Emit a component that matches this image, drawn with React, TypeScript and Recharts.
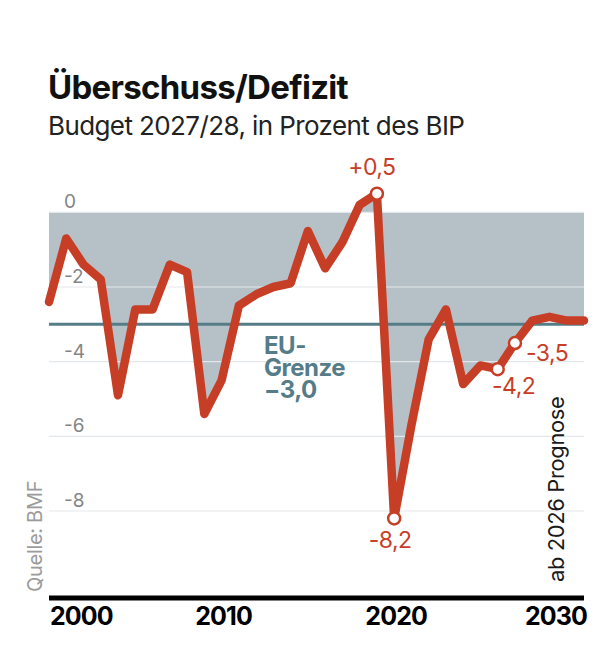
import { ComposedChart, Area, Line, XAxis, YAxis, ReferenceLine } from 'recharts'

// Gesamtstaatlicher Saldo Österreich in % des BIP, ab 2026 Prognose
const years = [
  2000, 2001, 2002, 2003, 2004, 2005, 2006, 2007, 2008, 2009, 2010,
  2011, 2012, 2013, 2014, 2015, 2016, 2017, 2018, 2019, 2020, 2021,
  2022, 2023, 2024, 2025, 2026, 2027, 2028, 2029, 2030, 2031,
]
const balance = [
  -2.4, -0.7, -1.4, -1.8, -4.9, -2.6, -2.6, -1.4, -1.6, -5.4, -4.5,
  -2.5, -2.2, -2.0, -1.9, -0.5, -1.5, -0.8, 0.2, 0.5, -8.2, -5.7,
  -3.4, -2.6, -4.6, -4.1, -4.2, -3.5, -2.9, -2.8, -2.9, -2.9,
]
const xTicks = [2000, 2010, 2020, 2030]
const yTicks = [0, -2, -4, -6, -8]
const EU_LIMIT = -3
const highlightYears = [2019, 2020, 2026, 2027]

const data = years.map((year, i) => ({ year, value: balance[i] }))

const RED = '#c73e27'
const AREA_GRAY = '#b6c1c7'
const TEAL = '#557c87'
const GRID = '#e4e7e9'
const FONT = 'Inter, "Noto Sans", sans-serif'

const W = 616
const H = 654
const MARGIN = { top: 175, right: 32, bottom: 0, left: 49 }

// where each value callout sits relative to its point
const calloutPos: Record<number, { dx: number; dy: number; anchor: 'start' | 'middle' | 'end' }> = {
  2019: { dx: -5, dy: -19, anchor: 'middle' },
  2020: { dx: -4, dy: 30, anchor: 'middle' },
  2026: { dx: 16, dy: 25, anchor: 'middle' },
  2027: { dx: 11, dy: 18, anchor: 'start' },
}

const fmt = (v: number) => (v > 0 ? '+' : v < 0 ? '-' : '') + Math.abs(v).toFixed(1).replace('.', ',')

function XTick({ x, y, payload, index }: any) {
  const last = index === xTicks.length - 1
  const anchor = index === 0 ? 'start' : last ? 'end' : 'middle'
  const tx = last ? W - MARGIN.right + 3 : index === 0 ? x + 1 : x + 2
  return (
    <text x={tx} y={y + 27} textAnchor={anchor} fontFamily={FONT} fontWeight={700} fontSize={25} fill="#000" letterSpacing={-0.9}>
      {payload.value}
    </text>
  )
}

// value label sitting just above a horizontal grid line
function GridLabel({ viewBox, value }: any) {
  return (
    <text x={viewBox.x + 15} y={viewBox.y - 4} fontFamily={FONT} fontSize={19} fill="#858585">
      {value === 0 ? '0' : '-' + Math.abs(value)}
    </text>
  )
}

function Dot({ cx, cy, payload }: any) {
  if (!highlightYears.includes(payload.year)) return <g key={payload.year} />
  return <circle key={payload.year} cx={cx} cy={cy} r={6} fill="#fff" stroke={RED} strokeWidth={2.5} />
}

function Callout({ x, y, index }: any) {
  const d = data[index]
  const pos = calloutPos[d.year]
  if (!pos) return <g key={index} />
  return (
    <text key={index} x={x + pos.dx} y={y + pos.dy} textAnchor={pos.anchor} fontFamily={FONT} fontSize={23} fill={RED} letterSpacing={-0.5}>
      {fmt(d.value)}
    </text>
  )
}

function LimitLabel({ viewBox }: any) {
  const y = viewBox.y
  return (
    <text fontFamily={FONT} fontWeight={700} fontSize={24} fill={TEAL} letterSpacing={-0.5}>
      <tspan x={264} y={y + 30}>EU-</tspan>
      <tspan x={264} y={y + 52}>Grenze</tspan>
      <tspan x={264} y={y + 74}>{'\u2212' + Math.abs(EU_LIMIT).toFixed(1).replace('.', ',')}</tspan>
    </text>
  )
}

export default function App() {
  return (
    <div style={{ position: 'absolute', left: 0, top: 0, width: W, height: H, background: '#fff' }}>
      <ComposedChart width={W} height={H} data={data} margin={MARGIN}>
        <XAxis
          dataKey="year"
          type="number"
          domain={[2000, 2031]}
          ticks={xTicks}
          tick={<XTick />}
          tickLine={false}
          tickSize={0}
          tickMargin={0}
          height={56}
          axisLine={{ stroke: '#000', strokeWidth: 5 }}
        />
        <YAxis type="number" domain={[-10.33, 1]} allowDataOverflow ticks={yTicks} hide />
        <Area
          dataKey="value"
          type="linear"
          baseValue={0}
          fill={AREA_GRAY}
          fillOpacity={1}
          stroke="none"
          isAnimationActive={false}
          zIndex={100}
        />
        {yTicks.map(t => (
          <ReferenceLine
            key={t}
            y={t}
            stroke={GRID}
            strokeWidth={1.2}
            label={<GridLabel value={t} />}
            zIndex={150}
          />
        ))}
        <ReferenceLine y={EU_LIMIT} stroke={TEAL} strokeWidth={3} label={<LimitLabel />} zIndex={200} />
        <Line
          dataKey="value"
          type="linear"
          stroke={RED}
          strokeWidth={8.5}
          strokeLinejoin="round"
          strokeLinecap="round"
          dot={<Dot />}
          activeDot={false}
          label={<Callout />}
          isAnimationActive={false}
          zIndex={400}
        />
      </ComposedChart>
      <svg width={W} height={H} style={{ position: 'absolute', left: 0, top: 0, pointerEvents: 'none' }}>
        <text x={48} y={99} fontFamily={FONT} fontWeight={700} fontSize={33} fill="#111" letterSpacing={-0.7}>
          Überschuss/Defizit
        </text>
        <text x={48} y={135} fontFamily={FONT} fontSize={26} fill="#222" letterSpacing={-0.6}>
          Budget 2027/28, in Prozent des BIP
        </text>
        <text transform="translate(42,592) rotate(-90)" fontFamily={FONT} fontSize={20} fill="#9b9b9b" letterSpacing={-0.3}>
          Quelle: BMF
        </text>
        <text transform="translate(564,582) rotate(-90)" fontFamily={FONT} fontSize={22} fill="#1a1a1a" letterSpacing={-0.4}>
          ab 2026 Prognose
        </text>
      </svg>
    </div>
  )
}
